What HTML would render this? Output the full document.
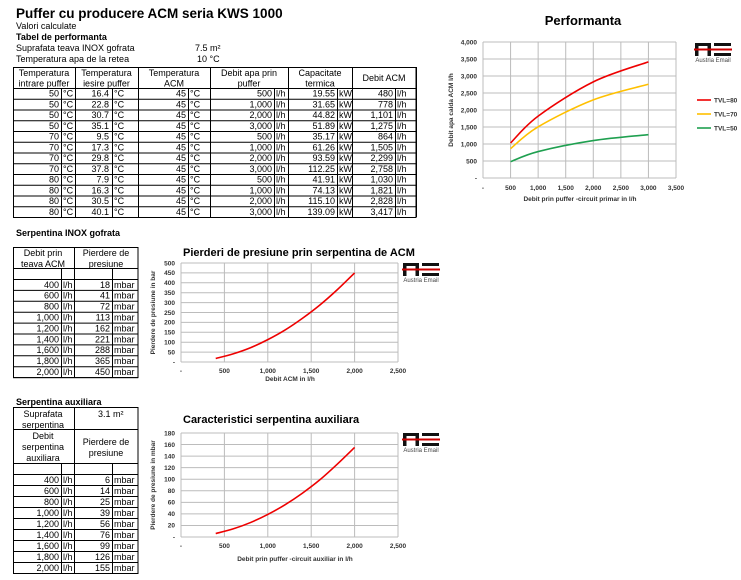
<!DOCTYPE html>
<html><head><meta charset="utf-8"><style>
html,body{margin:0;padding:0;background:#fff;width:741px;height:580px;overflow:hidden}
svg{display:block}
text{font-family:"Liberation Sans",Arial,sans-serif;fill:#000}
.s{font-size:9px}
.b{font-weight:bold}
.t{font-size:6.5px;font-weight:bold;fill:#333}
</style></head><body>
<svg id="g" width="741" height="580" xmlns="http://www.w3.org/2000/svg"></svg>
<script>
(function(){
const g=document.getElementById('g');let h='';
function T(x,y,s,cls,anch,extra){h+=`<text x="${x}" y="${y}" class="${cls||'s'}" text-anchor="${anch||'start'}" ${extra||''}>${s}</text>`;}
function L(x1,y1,x2,y2,c,w){h+=`<line x1="${x1}" y1="${y1}" x2="${x2}" y2="${y2}" stroke="${c||'#000'}" stroke-width="${w||1}"/>`;}
T(16,18,'Puffer cu producere ACM seria KWS 1000','b','start','style="font-size:13.5px"');
T(16,29,'Valori calculate');
T(16,40,'Tabel  de performanta','s b');
T(16,51,'Suprafata teava INOX gofrata');T(195,51,'7.5  m²');
T(16,62,'Temperatura apa de la retea');T(197,62,'10  °C');
const c=[13,61,75,112,138,188,210,274,288,337,352,395,416];
const hx=[13,75,138,210,288,352,416];
const tTop=67,r0=88,rh=10.75;
h+=`<rect x="13.5" y="${tTop+.5}" width="402.5" height="${r0+12*rh-tTop}" fill="none" stroke="#000"/>`;
hx.forEach(x=>L(x+.5,tTop,x+.5,r0+12*rh));
[1,3,5,7,9,11].forEach(i=>L(c[i]+.5,r0,c[i]+.5,r0+12*rh));
for(let i=0;i<=12;i++)L(13,r0+i*rh+.5,416,r0+i*rh+.5);
const hd=[['Temperatura','intrare puffer'],['Temperatura','iesire puffer'],['Temperatura','ACM'],['Debit apa prin','puffer'],['Capacitate','termica']];
hd.forEach((a,i)=>{const cx=(hx[i]+hx[i+1])/2;T(cx,76,a[0],'s','middle');T(cx,86.5,a[1],'s','middle');});
T(384,81,'Debit ACM','s','middle');
const D=[[50,16.4,500,'19.55',480],[50,22.8,1000,'31.65',778],[50,30.7,2000,'44.82',1101],[50,35.1,3000,'51.89',1275],[70,9.5,500,'35.17',864],[70,17.3,1000,'61.26',1505],[70,29.8,2000,'93.59',2299],[70,37.8,3000,'112.25',2758],[80,7.9,500,'41.91',1030],[80,16.3,1000,'74.13',1821],[80,30.5,2000,'115.10',2828],[80,40.1,3000,'139.09',3417]];
const f=n=>String(n).replace(/\B(?=(\d{3})+(?!\d))/g,',');
D.forEach((d,i)=>{const y=r0+i*rh+8.6;
T(59,y,d[0],'s','end');T(63,y,'°C');T(109,y,d[1].toFixed(1),'s','end');T(114,y,'°C');
T(186,y,'45','s','end');T(190,y,'°C');T(272,y,f(d[2]),'s','end');T(276,y,'l/h');
T(335,y,d[3],'s','end');T(339,y,'kW');T(393,y,f(d[4]),'s','end');T(397,y,'l/h');});
const qq=[400,600,800,1000,1200,1400,1600,1800,2000];
function small(y0,hdrBot,blankBot,rowH,vals){
 const yEnd=blankBot+9*rowH;
 h+=`<rect x="13.5" y="${y0+.5}" width="124.5" height="${yEnd-y0}" fill="none" stroke="#000"/>`;
 L(74.5,y0,74.5,yEnd);L(61.5,hdrBot,61.5,yEnd);L(112.5,hdrBot,112.5,yEnd);
 L(13,hdrBot+.5,138,hdrBot+.5);
 for(let i=0;i<=9;i++)L(13,blankBot+i*rowH+.5,138,blankBot+i*rowH+.5);
 qq.forEach((v,i)=>{const y=blankBot+i*rowH+8.8;T(59,y,f(v),'s','end');T(63,y,'l/h');T(110,y,vals[i],'s','end');T(114,y,'mbar');});
}
T(16,236,'Serpentina INOX gofrata','s b');
small(247,268,279,10.9,[18,41,72,113,162,221,288,365,450]);
T(43,256,'Debit prin','s','middle');T(43,267,'teava ACM','s','middle');
T(106,256,'Pierdere de','s','middle');T(106,267,'presiune','s','middle');
T(16,405,'Serpentina auxiliara','s b');
small(407,463,474,11,[6,14,25,39,56,76,99,126,155]);
L(13,429.5,138,429.5);
T(43,417,'Suprafata','s','middle');T(43,428,'serpentina','s','middle');T(98,417,'3.1  m²');
T(43,439,'Debit','s','middle');T(43,450,'serpentina','s','middle');T(43,461,'auxiliara','s','middle');
T(106,445,'Pierdere de','s','middle');T(106,456,'presiune','s','middle');
function cr(pts){
 let d=`M${pts[0][0]},${pts[0][1]}`;
 for(let i=0;i<pts.length-1;i++){const p0=pts[i-1]||pts[i],p1=pts[i],p2=pts[i+1],p3=pts[i+2]||p2;
 d+=` C${p1[0]+(p2[0]-p0[0])/6},${p1[1]+(p2[1]-p0[1])/6} ${p2[0]-(p3[0]-p1[0])/6},${p2[1]-(p3[1]-p1[1])/6} ${p2[0]},${p2[1]}`;}
 return d;}
function logo(x,y){
 h+=`<rect x="${x}" y="${y}" width="3.5" height="13" fill="#111"/><rect x="${x}" y="${y}" width="16" height="3" fill="#111"/><rect x="${x+12.5}" y="${y}" width="3.5" height="13" fill="#111"/>`;
 h+=`<rect x="${x+19}" y="${y}" width="17" height="3" fill="#111"/><rect x="${x+19}" y="${y+10}" width="17" height="3" fill="#111"/>`;
 h+=`<rect x="${x-1}" y="${y+5.5}" width="38" height="2" fill="#c00"/>`;
 T(x+18,y+19,'Austria Email','s','middle','style="font-size:6px;fill:#444"');
}
function chart(o){
 const x0=o.x0,x1=o.x1,y0=o.y0,y1=o.y1,xmax=o.xmax,ymax=o.ymax;
 const X=v=>x0+(x1-x0)*v/xmax,Y=v=>y1-(y1-y0)*v/ymax;
 for(let v=0;v<=ymax;v+=o.ys){L(x0,Y(v),x1,Y(v),'#bcbcbc',1);T(x0-6,Y(v)+2.3,v?f(v):'-','t','end');}
 for(let v=0;v<=xmax;v+=o.xs){L(X(v),y0,X(v),y1,'#bcbcbc',1);T(X(v),y1+o.xtl,v?f(v):'-','t','middle');}
 o.series.forEach(s=>{h+=`<path d="${cr(s.d.map(p=>[X(p[0]),Y(p[1])]))}" fill="none" stroke="${s.c}" stroke-width="1.6"/>`;});
 T(o.tx,o.ty,o.title,'b',o.ta,'style="font-size:'+o.tfs+'px"');
 T(o.xlx,o.xly,o.xl,'t','middle');
 T(0,0,o.yl,'t','middle',`transform="translate(${o.ylx},${(y0+y1)/2}) rotate(-90)"`);
}
chart({x0:483,x1:676,y0:42,y1:178,xmax:3500,ymax:4000,xs:500,ys:500,xtl:12,
 series:[{c:'#e00',d:[[500,1030],[1000,1821],[2000,2828],[3000,3417]]},{c:'#ffc000',d:[[500,864],[1000,1505],[2000,2299],[3000,2758]]},{c:'#1fa050',d:[[500,480],[1000,778],[2000,1101],[3000,1275]]}],
 tx:583,ty:25,ta:'middle',tfs:13,title:'Performanta',xlx:580,xly:201,xl:'Debit prin puffer -circuit primar in l/h',ylx:453,yl:'Debit apa calda ACM l/h'});
[['#e00','TVL=80',100],['#ffc000','TVL=70',114],['#1fa050','TVL=50',128]].forEach(a=>{L(697,a[2],711,a[2],a[0],1.6);T(714,a[2]+2.3,a[1],'t');});
logo(695,43);
chart({x0:181,x1:398,y0:263,y1:362,xmax:2500,ymax:500,xs:500,ys:50,xtl:11,
 series:[{c:'#e00',d:qq.map((v,i)=>[v,[18,41,72,113,162,221,288,365,450][i]])}],
 tx:183,ty:256,ta:'start',tfs:11,title:'Pierderi de presiune prin serpentina de ACM',xlx:290,xly:381,xl:'Debit ACM in l/h',ylx:155,yl:'Pierdere de presiune in bar'});
logo(403,263);
chart({x0:181,x1:398,y0:433,y1:537,xmax:2500,ymax:180,xs:500,ys:20,xtl:11,
 series:[{c:'#e00',d:qq.map((v,i)=>[v,[6,14,25,39,56,76,99,126,155][i]])}],
 tx:183,ty:423,ta:'start',tfs:11,title:'Caracteristici serpentina auxiliara',xlx:295,xly:561,xl:'Debit prin puffer -circuit auxiliar in l/h',ylx:155,yl:'Pierdere de presiune in mbar'});
logo(403,433);
g.innerHTML=h;
})();
</script>
</body></html>
